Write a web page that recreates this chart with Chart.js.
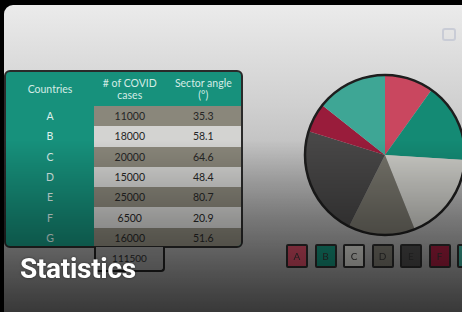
<!DOCTYPE html>
<html lang="en">
<head>
    <meta charset="UTF-8">
    <title>Statistics</title>
    <script src="https://cdn.jsdelivr.net/npm/chart.js"></script>
    <style>
        html, body {
            margin: 0;
            padding: 0;
            width: 462px;
            height: 312px;
            overflow: hidden;
            background: #000;
            font-family: Lato, "Open Sans", sans-serif;
        }
        .panel {
            position: absolute;
            left: 4px;
            top: 5px;
            width: 480px;
            height: 330px;
            border-radius: 9px;
            background: linear-gradient(180deg, #ebebeb 0%, #d0d0d0 30%, #b0b0b0 60%, #909090 100%);
        }
        .icon {
            position: absolute;
            left: 442px;
            top: 28px;
            width: 10px;
            height: 9px;
            border: 2px solid #c9ccd6;
            border-radius: 3px;
        }
        .tbl {
            position: absolute;
            left: 4px;
            top: 70px;
            width: 239px;
            height: 178px;
            box-sizing: border-box;
            border: 2px solid #2a2a2a;
            border-radius: 6px;
            overflow: hidden;
            background: #17917c;
        }
        table {
            border-collapse: collapse;
            width: 100%;
            font-size: 10.5px;
        }
        th {
            height: 34px;
            font-weight: normal;
            color: #d4ece6;
            line-height: 12px;
            padding: 0;
        }
        td {
            height: 20.3px;
            padding: 0;
            text-align: center;
            color: #262626;
        }
        td.c {
            color: #dff0ec;
            width: 88px;
        }
        tr.odd td.v { background: #8a877b; }
        tr.even td.v { background: #d3d3d1; }
        .total {
            position: absolute;
            left: 94px;
            top: 247px;
            width: 71px;
            height: 25px;
            box-sizing: border-box;
            border: 2px solid #222;
            border-top: none;
            border-radius: 0 0 4px 4px;
            background: #9a9a9a;
            color: #2b2b2b;
            font-size: 10px;
            text-align: center;
            line-height: 22px;
        }
        #pieWrap {
            position: absolute;
            left: 295px;
            top: 65px;
            width: 180px;
            height: 180px;
        }
        .legend {
            position: absolute;
            left: 286px;
            top: 244px;
            display: flex;
            gap: 6.5px;
        }
        .legend div {
            width: 22px;
            height: 24px;
            box-sizing: border-box;
            border: 2px solid #2a2a2a;
            border-radius: 2px;
            font-size: 10px;
            text-align: center;
            line-height: 20px;
            color: #333;
        }
        .shade {
            position: absolute;
            left: 0;
            top: 0;
            width: 462px;
            height: 312px;
            pointer-events: none;
            background: linear-gradient(180deg, rgba(0,0,0,0) 0%, rgba(0,0,0,0) 45%, rgba(0,0,0,0.3) 70%, rgba(0,0,0,0.62) 100%);
        }
        .title {
            position: absolute;
            left: 20px;
            top: 252px;
            font-family: Roboto, sans-serif;
            font-weight: bold;
            font-size: 28px;
            letter-spacing: -0.3px;
            color: #fff;
            text-shadow: 0 0 3px rgba(0,0,0,0.5);
        }
    </style>
</head>
<body>
    <div class="panel"></div>
    <div class="icon"></div>

    <div class="tbl">
        <table>
            <thead>
                <tr>
                    <th>Countries</th>
                    <th># of COVID<br>cases</th>
                    <th>Sector angle<br>(°)</th>
                </tr>
            </thead>
            <tbody id="rows"></tbody>
        </table>
    </div>
    <div class="total" id="total"></div>

    <div id="pieWrap"><canvas id="pie" width="180" height="180"></canvas></div>
    <div class="legend" id="legend"></div>

    <div class="shade"></div>
    <div class="title">Statistics</div>

    <script>
        const countries = ['A', 'B', 'C', 'D', 'E', 'F', 'G'];
        const cases = [11000, 18000, 20000, 15000, 25000, 6500, 16000];
        const angles = [35.3, 58.1, 64.6, 48.4, 80.7, 20.9, 51.6];
        const sliceColors = ['#c9475f', '#148a74', '#cbcbc6', '#75736a', '#484747', '#991c3b', '#3ea695'];

        // table rows
        const tbody = document.getElementById('rows');
        countries.forEach((c, i) => {
            const tr = document.createElement('tr');
            tr.className = i % 2 === 0 ? 'odd' : 'even';
            tr.innerHTML = '<td class="c">' + c + '</td><td class="v">' + cases[i] +
                '</td><td class="v">' + angles[i] + '</td>';
            tbody.appendChild(tr);
        });
        document.getElementById('total').textContent = cases.reduce((a, b) => a + b, 0);

        // legend boxes
        const legend = document.getElementById('legend');
        countries.forEach((c, i) => {
            const d = document.createElement('div');
            d.style.background = sliceColors[i];
            d.textContent = c;
            legend.appendChild(d);
        });

        // outer ring only, no lines between slices
        const outerRing = {
            id: 'outerRing',
            afterDatasetsDraw(chart) {
                const arc = chart.getDatasetMeta(0).data[0];
                const ctx = chart.ctx;
                ctx.save();
                ctx.beginPath();
                ctx.arc(arc.x, arc.y, arc.outerRadius, 0, Math.PI * 2);
                ctx.lineWidth = 2.5;
                ctx.strokeStyle = '#1e1e1e';
                ctx.stroke();
                ctx.restore();
            }
        };

        new Chart(document.getElementById('pie'), {
            type: 'pie',
            data: {
                labels: countries,
                datasets: [{
                    data: cases,
                    backgroundColor: sliceColors,
                    borderWidth: 0
                }]
            },
            options: {
                responsive: false,
                animation: false,
                layout: { padding: 10 },
                plugins: {
                    legend: { display: false },
                    tooltip: { enabled: false }
                }
            },
            plugins: [outerRing]
        });
    </script>
</body>
</html>
